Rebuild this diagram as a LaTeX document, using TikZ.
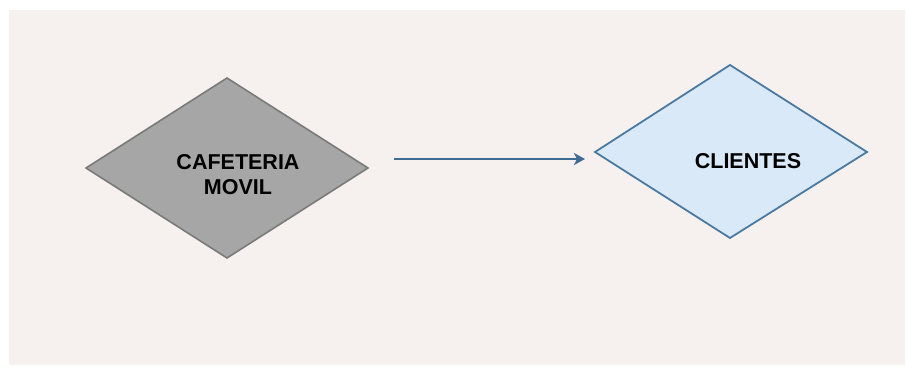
\documentclass[tikz,border=0pt]{standalone}
\usepackage{fontspec}
\setmainfont{Liberation Sans}
\usetikzlibrary{arrows.meta}
\definecolor{bgc}{HTML}{F6F1EE}
\definecolor{grayfill}{HTML}{A6A6A6}
\definecolor{grayline}{HTML}{7A7A7A}
\definecolor{bluefill}{HTML}{DAE9F7}
\definecolor{blueline}{HTML}{4A7AA2}
\definecolor{arrowc}{HTML}{3F6C94}
\tikzset{
  lbl/.style={font=\bfseries\fontsize{21.5}{25}\selectfont, align=center, text=black},
  conn/.style={draw=arrowc, line width=2.6pt, -{Stealth[length=11pt,width=12pt,inset=3pt]}}
}
\begin{document}
\begin{tikzpicture}[x=1pt,y=1pt]
\useasboundingbox (0,0) rectangle (907,367);
\fill[white] (0,0) rectangle (907,367);
\fill[bgc] (9,2) rectangle (905,357);
\draw[grayline, fill=grayfill, line width=1.6pt] (86,199) -- (227,289) -- (368,199) -- (227,109) -- cycle;
\draw[blueline, fill=bluefill, line width=1.8pt] (595,215) -- (730,302) -- (867,215) -- (730,129) -- cycle;
\node[lbl] (caf) at (238,192) {CAFETERIA\\MOVIL};
\node[lbl] (cli) at (748,206) {CLIENTES};
\coordinate (a1) at (394,208);
\coordinate (a2) at (585,208);
\draw[conn] (a1) -- (a2);
\end{tikzpicture}
\end{document}
